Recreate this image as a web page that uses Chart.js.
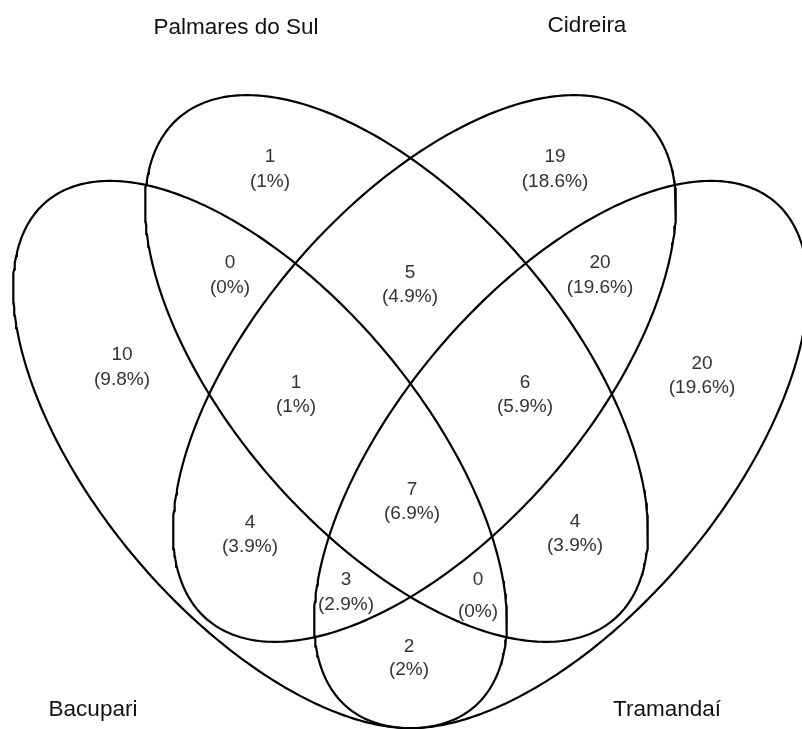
<!DOCTYPE html>
<html lang="pt">
<head>
<meta charset="UTF-8">
<title>Diagrama de Venn</title>
<script src="https://cdn.jsdelivr.net/npm/chart.js"></script>
<style>
    html, body { margin: 0; padding: 0; background: #fff; }
    .chart-container { position: relative; width: 802px; height: 729px; }
</style>
</head>
<body>
<div class="chart-container">
    <canvas id="vennChart" width="802" height="729"></canvas>
</div>
<script>
    // Conjuntos
    const categories = ['Bacupari', 'Palmares do Sul', 'Cidreira', 'Tramandaí'];

    // Regiões do diagrama (valor e percentual)
    const regionNames = ['P', 'C', 'B∩P', 'P∩C', 'C∩T', 'B', 'T', 'B∩P∩C', 'P∩C∩T', 'B∩P∩C∩T', 'B∩C', 'P∩T', 'B∩C∩T', 'B∩P∩T', 'B∩T'];
    const regionCounts = [1, 19, 0, 5, 20, 10, 20, 1, 6, 7, 4, 4, 3, 0, 2];
    const regionPercents = ['1%', '18.6%', '0%', '4.9%', '19.6%', '9.8%', '19.6%', '1%', '5.9%', '6.9%', '3.9%', '3.9%', '2.9%', '0%', '2%'];

    // Layout: posição dos rótulos (unidades do eixo = pixels), linha do número e linha do %
    const regionLabelX = [270, 555, 230, 410, 600, 122, 702, 296, 525, 412, 250, 575, 346, 478, 409];
    const regionLabelY = [157, 157, 263, 273, 263, 355, 364, 383, 383, 490, 523, 522, 580, 580, 647];
    const regionPctY   = [182, 182, 288, 297, 288, 380, 388, 407, 407, 514, 547, 546, 605, 612, 670];

    const categoryLabelX = [93, 236, 587, 667];
    const categoryLabelY = [710, 28, 26, 710];

    // Elipses: centro, semi-eixos, rotação (graus)
    const ellipses = [
        { cx: 260,   cy: 454.5, a: 331, b: 162,   rot: 49.8 },
        { cx: 396.5, cy: 368.5, a: 332, b: 166.5, rot: 49.0 },
        { cx: 424.5, cy: 368.5, a: 332, b: 166.5, rot: -49.0 },
        { cx: 561,   cy: 454.5, a: 331, b: 162,   rot: -49.8 }
    ];

    function ellipsePoints(e) {
        const pts = [];
        const r = e.rot * Math.PI / 180;
        for (let i = 0; i <= 360; i++) {
            const t = i * Math.PI / 180;
            pts.push({
                x: e.cx + e.a * Math.cos(t) * Math.cos(r) - e.b * Math.sin(t) * Math.sin(r),
                y: e.cy + e.a * Math.cos(t) * Math.sin(r) + e.b * Math.sin(t) * Math.cos(r)
            });
        }
        return pts;
    }

    const vennLabels = {
        id: 'vennLabels',
        afterDatasetsDraw(chart) {
            const ctx = chart.ctx;
            const xs = chart.scales.x;
            const ys = chart.scales.y;
            ctx.save();
            ctx.textAlign = 'center';
            ctx.textBaseline = 'middle';

            ctx.fillStyle = '#333';
            ctx.font = '19px "Liberation Sans", Arial, sans-serif';
            regionCounts.forEach((v, i) => {
                const px = xs.getPixelForValue(regionLabelX[i]);
                ctx.fillText(String(v), px, ys.getPixelForValue(regionLabelY[i]));
                ctx.fillText('(' + regionPercents[i] + ')', px, ys.getPixelForValue(regionPctY[i]));
            });

            ctx.fillStyle = '#111';
            ctx.font = '22.5px "Liberation Sans", Arial, sans-serif';
            categories.forEach((c, i) => {
                ctx.fillText(c, xs.getPixelForValue(categoryLabelX[i]), ys.getPixelForValue(categoryLabelY[i]));
            });
            ctx.restore();
        }
    };

    const ctx = document.getElementById('vennChart').getContext('2d');
    const vennChart = new Chart(ctx, {
        type: 'scatter',
        data: {
            datasets: ellipses.map((e, i) => ({
                label: categories[i],
                data: ellipsePoints(e),
                showLine: true,
                borderColor: '#000',
                borderWidth: 2.2,
                pointRadius: 0,
                fill: false,
                tension: 0
            }))
        },
        options: {
            responsive: false,
            animation: false,
            layout: { padding: 0 },
            plugins: {
                legend: { display: false },
                tooltip: { enabled: false }
            },
            scales: {
                x: { type: 'linear', min: 0, max: 802, display: false },
                y: { type: 'linear', min: 0, max: 729, reverse: true, display: false }
            }
        },
        plugins: [vennLabels]
    });
</script>
</body>
</html>
